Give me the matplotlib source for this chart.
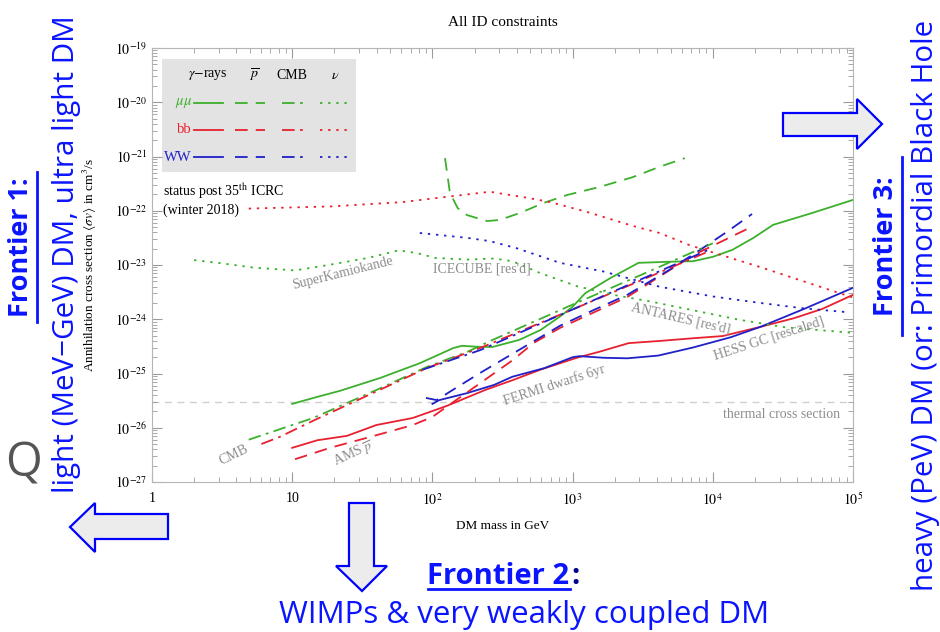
import numpy as np
import matplotlib
matplotlib.use('Agg')
import matplotlib.pyplot as plt
from matplotlib.patches import Polygon, Rectangle
from matplotlib.ticker import LogLocator, FixedLocator, FixedFormatter, NullFormatter

plt.rcParams['font.family'] = 'Liberation Serif'
plt.rcParams['mathtext.fontset'] = 'stix'

# ---- data: log10(mass/GeV) and log10(<sigma v>/cm^3 s^-1) ----
# gamma rays (Fermi dwarfs + HESS GC)
gam_mumu_m = [1.0, 1.18, 1.34, 1.63, 1.91, 2.15, 2.21, 2.34, 2.43, 2.62, 2.77, 2.91, 3.0, 3.09, 3.27, 3.47, 3.69, 3.86, 4.0, 4.14, 4.29, 4.43, 4.71, 5.0]
gam_mumu_s = [-25.56, -25.43, -25.32, -25.08, -24.81, -24.53, -24.49, -24.51, -24.51, -24.38, -24.2, -23.95, -23.77, -23.52, -23.24, -22.96, -22.94, -22.93, -22.85, -22.72, -22.50, -22.26, -22.04, -21.80]
gam_bb_m = [1.0, 1.18, 1.39, 1.6, 1.86, 2.1, 2.38, 2.575, 2.77, 3.03, 3.19, 3.40, 3.62, 3.86, 4.07, 4.34, 4.58, 4.78, 5.0]
gam_bb_s = [-26.37, -26.23, -26.15, -25.95, -25.82, -25.60, -25.30, -25.12, -24.93, -24.71, -24.60, -24.44, -24.40, -24.35, -24.31, -24.14, -23.98, -23.81, -23.55]
gam_ww_m = [2.0, 2.05, 2.25, 2.44, 2.57, 2.80, 3.0, 3.05, 3.22, 3.39, 3.61, 3.86, 4.13, 4.34, 4.66, 5.0]
gam_ww_s = [-25.56, -25.49, -25.36, -25.21, -25.06, -24.90, -24.70, -24.68, -24.71, -24.72, -24.67, -24.52, -24.33, -24.14, -23.80, -23.42]

# antiprotons (AMS)
pb_mumu_m = [2.09, 2.125, 2.18, 2.247, 2.39, 2.48, 2.625, 2.79, 2.96, 3.195, 3.43, 3.62, 3.80]
pb_mumu_s = [-21.03, -21.67, -21.95, -22.08, -22.19, -22.17, -22.04, -21.86, -21.71, -21.56, -21.38, -21.19, -21.03]
pb_bb_m = [1.02, 1.27, 1.555, 1.86, 2.0, 2.147, 2.34, 2.575, 2.72, 2.91, 3.39, 3.86, 4.29]
pb_bb_s = [-26.58, -26.37, -26.17, -25.95, -25.80, -25.53, -25.18, -24.75, -24.44, -24.16, -23.59, -22.82, -22.28]
pb_ww_m = [1.954, 2.03, 2.147, 2.34, 2.53, 2.91, 3.15, 3.39, 3.69, 3.91, 4.10, 4.28]
pb_ww_s = [-25.45, -25.49, -25.30, -24.99, -24.70, -24.12, -23.83, -23.55, -23.09, -22.72, -22.39, -22.06]

# CMB
cmb_mumu_m = [0.69, 1.15, 1.63, 1.96, 2.25, 2.43, 3.0, 3.5, 4.0]
cmb_mumu_s = [-26.22, -25.82, -25.27, -24.88, -24.60, -24.38, -23.73, -23.17, -22.60]
cmb_bb_m = [0.78, 0.91, 1.15, 1.96, 2.34, 3.0, 3.5, 3.96]
cmb_bb_s = [-26.30, -26.17, -25.87, -24.90, -24.53, -23.82, -23.27, -22.76]
cmb_ww_m = [1.93, 2.34, 3.0, 3.5, 3.96]
cmb_ww_s = [-24.93, -24.57, -23.82, -23.25, -22.73]

# neutrinos (SuperK, IceCube, ANTARES)
nu_mumu_m = [0.30, 0.5, 0.73, 1.02, 1.28, 1.54, 1.76, 1.89, 2.02, 2.25, 2.44, 2.57, 2.77, 3.03, 3.29, 3.55, 3.87, 4.19, 4.52, 5.0]
nu_mumu_s = [-22.91, -22.97, -23.05, -23.10, -22.99, -22.87, -22.73, -22.78, -22.87, -22.90, -22.88, -22.93, -23.15, -23.39, -23.55, -23.67, -23.84, -24.01, -24.15, -24.25]
nu_bb_m = [0.69, 1.28, 1.79, 2.08, 2.41, 2.675, 2.84, 3.10, 3.43, 3.62, 3.84, 4.34, 5.0]
nu_bb_s = [-21.96, -21.92, -21.84, -21.75, -21.65, -21.76, -21.84, -22.02, -22.28, -22.41, -22.64, -23.04, -23.60]
nu_ww_m = [1.91, 2.25, 2.41, 2.60, 2.91, 3.22, 3.62, 4.0, 4.34, 4.65, 4.96]
nu_ww_s = [-22.41, -22.50, -22.56, -22.69, -22.96, -23.12, -23.40, -23.58, -23.70, -23.80, -23.87]

thermal = 3e-26

xtick_vals = [1, 10, 1e2, 1e3, 1e4, 1e5]
xtick_labels = ['1', '10', '$10^2$', '$10^3$', '$10^4$', '$10^5$']
ytick_vals = [1e-27, 1e-26, 1e-25, 1e-24, 1e-23, 1e-22, 1e-21, 1e-20, 1e-19]
ytick_labels = ['$10^{-27}$', '$10^{-26}$', '$10^{-25}$', '$10^{-24}$', '$10^{-23}$',
                '$10^{-22}$', '$10^{-21}$', '$10^{-20}$', '$10^{-19}$']

# text labels on the plot: (text, log m, log sigma, rotation, ha)
plot_labels = [
    ('SuperKamiokande', 1.36, -23.15, 14, 'center'),
    ("ICECUBE [res'd]", 2.35, -23.08, 0, 'center'),
    ("ANTARES [res'd]", 3.77, -23.98, -13, 'center'),
    ('HESS GC [rescaled]', 4.40, -24.35, 18, 'center'),
    ('FERMI dwarfs 6yr', 2.87, -25.21, 18, 'center'),
    ('thermal cross section', 4.91, -25.75, 0, 'right'),
    ('CMB', 0.58, -26.51, 26, 'center'),
    (r'AMS $\overline{p}$', 1.44, -26.48, 25, 'center'),
]

green = '#3cb02c'
red = '#e8202f'
blue = '#2020c8'
W, H = 940, 632

fig = plt.figure(figsize=(9.4, 6.32), dpi=100)
ax = fig.add_axes([152 / W, 1 - 482 / H, 701 / W, 434 / H])

ls_dash = (0, (7, 4.5))
ls_dd = (0, (7, 3, 1.5, 3))
ls_dot = (0, (1.3, 3.2))

def curve(m, s, color, style):
    ax.plot(10 ** np.array(m), 10 ** np.array(s), color=color, ls=style, lw=1.3)

curve(gam_mumu_m, gam_mumu_s, green, '-')
curve(gam_bb_m, gam_bb_s, red, '-')
curve(gam_ww_m, gam_ww_s, blue, '-')
curve(pb_mumu_m, pb_mumu_s, green, ls_dash)
curve(pb_bb_m, pb_bb_s, red, ls_dash)
curve(pb_ww_m, pb_ww_s, blue, ls_dash)
curve(cmb_mumu_m, cmb_mumu_s, green, ls_dd)
curve(cmb_bb_m, cmb_bb_s, red, ls_dd)
curve(cmb_ww_m, cmb_ww_s, blue, ls_dd)
curve(nu_mumu_m, nu_mumu_s, green, ls_dot)
curve(nu_bb_m, nu_bb_s, red, ls_dot)
curve(nu_ww_m, nu_ww_s, blue, ls_dot)

ax.axhline(thermal, color='#d0d0d0', ls=(0, (5, 4)), lw=1.0, zorder=0)

for txt, lm, lsig, rot, ha in plot_labels:
    ax.text(10 ** lm, 10 ** lsig, txt, rotation=rot, ha=ha, va='center',
            color='#8c8c8c', fontsize=10, rotation_mode='anchor')

ax.set_xscale('log')
ax.set_yscale('log')
ax.set_xlim(1, 1e5)
ax.set_ylim(1e-27, 1e-19)
ax.xaxis.set_major_locator(FixedLocator(xtick_vals))
ax.xaxis.set_major_formatter(FixedFormatter(xtick_labels))
ax.yaxis.set_major_locator(FixedLocator(ytick_vals))
ax.yaxis.set_major_formatter(FixedFormatter(ytick_labels))
ax.xaxis.set_minor_locator(LogLocator(base=10, subs=np.arange(2, 10), numticks=20))
ax.yaxis.set_minor_locator(LogLocator(base=10, subs=np.arange(2, 10), numticks=20))
ax.xaxis.set_minor_formatter(NullFormatter())
ax.yaxis.set_minor_formatter(NullFormatter())
ax.tick_params(which='both', direction='in', top=True, right=True, color='#9a9a9a', labelsize=10)
ax.tick_params(which='major', length=7, width=0.8)
ax.tick_params(which='minor', length=3.5, width=0.6)
ax.tick_params(axis='x', pad=7)
for sp in ax.spines.values():
    sp.set_color('#b5b5b5')

ax.set_title('All ID constraints', fontsize=11, pad=16)
ax.set_xlabel('DM mass in GeV', fontsize=9.5)
ax.xaxis.set_label_coords(0.5, -0.088)
ax.set_ylabel(r'Annihilation cross section $\langle\sigma v\rangle$ in cm$^3$/s', fontsize=9.5)
ax.yaxis.set_label_coords(-0.075, 0.5)

# legend block
ax.add_patch(Rectangle((0.014, 0.714), 0.277, 0.26, transform=ax.transAxes,
                       facecolor='#e3e3e3', edgecolor='none', zorder=1))
heads = [(0.080, r'$\gamma$$-$rays'), (0.145, r'$\overline{p}$'), (0.200, 'CMB'), (0.261, r'$\nu$')]
for x, t in heads:
    ax.text(x, 0.937, t, transform=ax.transAxes, ha='center', va='center', fontsize=10, zorder=3)
rows = [(0.873, r'$\mu\mu$', green), (0.812, 'bb', red), (0.748, 'WW', blue)]
segs = [((0.060, 0.101), '-'), ((0.119, 0.161), ls_dash), ((0.185, 0.215), ls_dd), ((0.239, 0.278), ls_dot)]
for y, lab, c in rows:
    ax.text(0.057, y, lab, transform=ax.transAxes, ha='right', va='center', color=c, fontsize=10.5, zorder=3)
    for (x0, x1), st in segs:
        ax.plot([x0, x1], [y, y], transform=ax.transAxes, color=c, ls=st, lw=1.3, zorder=3)
ax.text(0.016, 0.671, r'status post 35$^{\rm th}$ ICRC', transform=ax.transAxes,
        ha='left', va='center', fontsize=10)
ax.text(0.016, 0.626, '(winter 2018)', transform=ax.transAxes, ha='left', va='center', fontsize=10)

# ---- slide annotations around the plot ----
def fx(x):
    return x / W

def fy(y):
    return 1 - y / H

sans = ['Open Sans', 'DejaVu Sans']
tblue = '#0a14ff'

fig.text(fx(67), fy(254), 'light (MeV\u2212GeV) DM, ultra light DM', rotation=90,
         ha='center', va='center', color=tblue, fontsize=21.3, family=sans)
fig.text(fx(21), fy(247), 'Frontier 1:', rotation=90, ha='center', va='center',
         color=tblue, fontsize=19.5, family=sans, weight='bold')
fig.add_artist(plt.Line2D([fx(37), fx(37)], [fy(172), fy(322)], color=tblue, lw=2))

fig.text(fx(925), fy(591), 'heavy (PeV) DM (or: Primordial Black Hole', rotation=90,
         ha='center', va='bottom', color=tblue, fontsize=21.3, family=sans)
fig.text(fx(886), fy(246), 'Frontier 3:', rotation=90, ha='center', va='center',
         color=tblue, fontsize=19.5, family=sans, weight='bold')
fig.add_artist(plt.Line2D([fx(902), fx(902)], [fy(157), fy(335)], color=tblue, lw=2))

fig.text(fx(427), fy(576), 'Frontier 2', ha='left', va='center', color=tblue,
         fontsize=21, family=sans, weight='bold')
fig.text(fx(571), fy(576), ':', ha='left', va='center', color='#00008c',
         fontsize=21, family=sans, weight='bold')
fig.add_artist(plt.Line2D([fx(428), fx(570)], [fy(589), fy(589)], color=tblue, lw=2))
fig.text(fx(524), fy(615), 'WIMPs & very weakly coupled DM', ha='center', va='center',
         color=tblue, fontsize=22.5, family=sans)

fig.text(fx(24), fy(464), 'Q', ha='center', va='center', color='#555555',
         fontsize=34, family=sans)

arrows = [
    [(70, 527), (95, 503), (95, 514), (168, 514), (168, 539), (95, 539), (95, 552)],
    [(349, 503), (374, 503), (374, 566), (387, 566), (362, 591), (336, 566), (349, 566)],
    [(783, 113), (857, 113), (857, 99), (882, 124), (857, 149), (857, 136), (783, 136)],
]
for pts in arrows:
    fig.add_artist(Polygon([(fx(x), fy(y)) for x, y in pts], closed=True,
                           transform=fig.transFigure, facecolor='#ececec',
                           edgecolor='#0000ff', lw=1.6))

plt.savefig('out.png', dpi=100)
